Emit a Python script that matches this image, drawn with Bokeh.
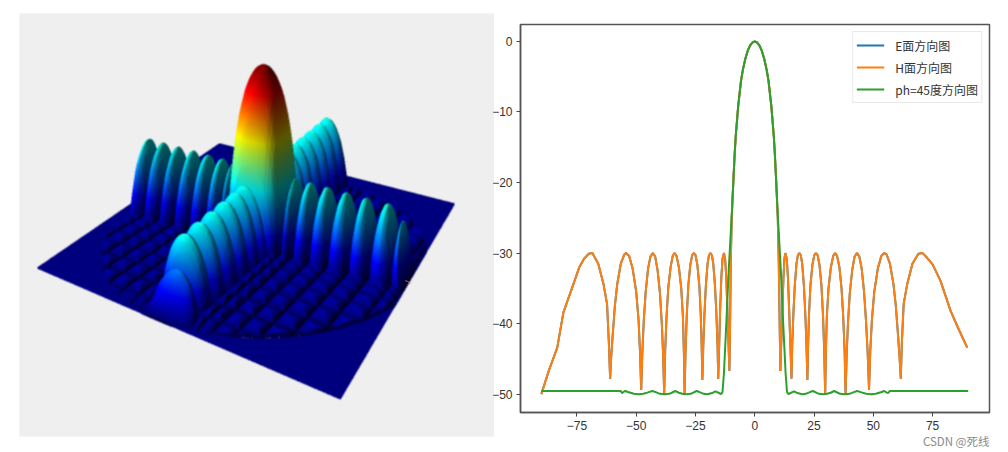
import numpy as np
from bokeh.plotting import figure
from bokeh.layouts import row
from bokeh.models import Range1d, FixedTicker, Legend, LegendItem, Title
from bokeh.embed import file_html
from bokeh.resources import INLINE

# ---------- right chart, values ----------
theta_deg = [-90, -87, -83.3, -80.7, -77, -74, -72, -70, -68.5, -66, -63.8, -62.3, -61.5, -61,
             -60.6, -60, -59, -58, -56.5, -55, -54.3, -53, -51.5, -50, -49, -48.4, -47.9,
             -47.4, -46.8, -46, -45, -44, -43, -42, -41, -40, -39.2, -38.7, -38.2,
             -37.8, -37.2, -36.5, -35.5, -34.6, -33.8, -33, -32, -31, -30.3, -29.9, -29.6,
             -29.2, -28.7, -28, -27.2, -26.4, -25.7, -25, -24.2, -23.4, -22.8, -22.4, -22.1,
             -21.7, -21.2, -20.6, -19.9, -19.3, -18.7, -18.1, -17.5, -16.8, -16.2, -15.7, -15.4,
             -15, -14.6, -14.1, -13.6, -13, -12.5, -12, -11.6, -11.2, -10.7,
             -10.4, -10.1, -9.7, -9, -8.4, -8, -7, -5.8, -5, -4, -3, -2, -1, 0,
             1, 2, 3, 4, 5, 5.8, 7, 8, 8.4, 9, 9.7, 10.1, 10.5, 10.8,
             11.3, 11.7, 12.1, 12.5, 12.9, 13.5, 14, 14.5, 15, 15.5,
             15.8, 16.3, 16.9, 17.6, 18.2, 18.8, 19.4, 20, 20.7, 21.3, 21.8, 22.2,
             22.5, 22.9, 23.5, 24.3, 25.1, 25.8, 26.5, 27.3, 28.1, 28.8, 29.3, 29.7,
             30, 30.4, 31.1, 32.1, 33.1, 33.9, 34.7, 35.7, 36.6, 37.3, 37.9, 38.3,
             38.8, 39.3, 40.1, 41.1, 42.1, 43.1, 44.1, 45.1, 46.1, 46.9, 47.6, 48.2,
             48.7, 49.4, 50.4, 51.9, 53.4, 54.6, 55.6, 57, 58.5, 59.5, 60.5, 61.1, 61.6,
             62, 62.8, 64.3, 66.5, 69, 70.8, 72.5, 75, 78.3, 82.6, 86, 89.6]
h_db = [-50, -46.8, -43.4, -38.4, -34.9, -32, -30.8, -30.1, -30, -31.5, -34.4, -37.2, -43, -47.8,
        -45, -42, -37.5, -34.4, -31.5, -30.2, -30, -30.4, -32.2, -35.5, -39.5, -44, -49.4,
        -44, -39.5, -35.5, -32.2, -30.5, -30, -30.5, -32.4, -35.6, -40, -44, -50,
        -44, -39, -35, -32, -30.4, -30, -30.4, -32, -35, -39, -44, -50,
        -44, -39, -34.5, -31.7, -30.3, -30, -30.3, -31.7, -34.5, -38.5, -43, -48,
        -43, -38.5, -34.5, -31.5, -30.3, -30, -30.3, -31.5, -34.5, -38.5, -43, -47.8,
        -43, -38, -33.5, -30.8, -30, -30.8, -33.5, -37.5, -41.5, -46.7,
        -40, -31, -25, -19.5, -15.5, -13.3, -9.2, -5.6, -4, -2.5, -1.35, -0.6, -0.15, 0,
        -0.15, -0.6, -1.35, -2.5, -4, -5.6, -9.2, -13.3, -15.5, -19.5, -25, -31, -40, -46.7,
        -41.5, -37.5, -33.5, -30.8, -30, -30.8, -33.5, -38, -43, -47.8,
        -43, -38.5, -34.5, -31.5, -30.3, -30, -30.3, -31.5, -34.5, -38.5, -43, -48,
        -43, -38.5, -34.5, -31.7, -30.3, -30, -30.3, -31.7, -34.5, -39, -44, -50,
        -44, -39, -35, -32, -30.4, -30, -30.4, -32, -35, -39, -44, -50,
        -44, -40, -35.6, -32.4, -30.5, -30, -30.5, -32.2, -35.5, -39.5, -44, -49.4,
        -44, -39.5, -35.5, -32.2, -30.4, -30, -30.2, -31.5, -34.4, -37.5, -42, -45, -47.8,
        -43, -37.2, -34.4, -31.5, -30.1, -30, -30.6, -31.6, -33.9, -38.2, -40.8, -43.4]
e_db = list(h_db)

g_theta = [-90, -56.5, -56, -55.2, -54.6, -53.5, -51, -49, -47, -45, -43.2, -41.5, -40, -38,
           -36, -35, -33.5, -32, -30.5, -29, -27, -25.5, -24.4, -23, -21.5, -20, -18, -16.6,
           -15.3, -14.2, -13.6, -13, -12, -11, -9.7, -8.4, -8, -7, -5.8, -5, -4, -3, -2, -1, 0,
           1, 2, 3, 4, 5, 5.8, 7, 8, 8.4, 9.7, 11, 12, 13, 13.6, 14.2, 15.3, 16.6, 18, 20, 21.5,
           23, 24.4, 25.5, 27, 29, 30.5, 32, 33.5, 35, 36, 38, 40, 41.5, 43.2, 45, 47, 49, 51,
           53.5, 54.6, 55.5, 56.2, 57, 90]
g_db = [-49.55, -49.55, -49.85, -49.65, -49.55, -49.7, -49.95, -50, -49.95, -49.75, -49.55, -49.75, -49.95, -50,
        -49.95, -49.8, -49.55, -49.8, -49.95, -50, -49.95, -49.7, -49.55, -49.75, -49.95, -50, -49.85, -49.6,
        -49.8, -50, -49.7, -47, -40, -32.5, -24.5, -15.5, -13.3, -9.2, -5.6, -4, -2.5, -1.35, -0.6, -0.15, 0,
        -0.15, -0.6, -1.35, -2.5, -4, -5.6, -9.2, -13.3, -15.5, -24.5, -32.5, -40, -47, -49.7, -50, -49.8, -49.6, -49.85, -50, -49.95,
        -49.75, -49.55, -49.7, -49.95, -50, -49.95, -49.8, -49.55, -49.8, -49.95, -50, -49.95, -49.75, -49.55, -49.75, -49.95, -50, -49.95,
        -49.7, -49.55, -49.75, -49.85, -49.55, -49.55]

x_ticks = [-75, -50, -25, 0, 25, 50, 75]
y_ticks = [0, -10, -20, -30, -40, -50]
series_names = ["E面方向图", "H面方向图", "ph=45度方向图"]
series_colors = ["#1f77b4", "#ff7f0e", "#2ca02c"]
watermark = "CSDN @死线"

# ---------- left panel: geometry (picture pixels) ----------
panel_box = [19, 13, 475, 423]                # left, top, width, height
plane_corners = [(37, 267), (219, 143), (454, 203), (340, 398)]
axis_ends_uv = [(-0.94, 0), (0.94, 0), (0, -0.94), (0, 0.94)]
axis_ends_px = [(171, 316), (327, 188), (147, 209), (408, 280)]
peak_height_px = 176
red_mark_x = [405, 407, 410]
red_mark_y = [-280, -281, -283]


def homography(src, dst):
    A, b = [], []
    for (u, v), (x, y) in zip(src, dst):
        A.append([u, v, 1, 0, 0, 0, -u * x, -v * x]); b.append(x)
        A.append([0, 0, 0, u, v, 1, -u * y, -v * y]); b.append(y)
    return np.append(np.linalg.solve(np.array(A, float), np.array(b, float)), 1).reshape(3, 3)


def render_surface():
    pw, ph = panel_box[2], panel_box[3]
    ss = 2
    T = homography(axis_ends_uv, axis_ends_px)
    Ti = np.linalg.inv(T)
    cc = np.array([[x, y, 1.0] for x, y in plane_corners]) @ Ti.T
    cu, cv = cc[:, 0] / cc[:, 2], cc[:, 1] / cc[:, 2]
    n = 1900
    us = np.linspace(cu.min(), cu.max(), n)
    vs = np.linspace(cv.min(), cv.max(), n)
    th = np.sin(np.radians(theta_deg))
    du_ = np.interp(us, th, h_db)
    dv_ = np.interp(vs, th, h_db)
    U, V = np.meshgrid(us, vs, indexing="ij")
    DU, DV = np.meshgrid(du_, dv_, indexing="ij")
    inside = U**2 + V**2 <= 1.0
    W = T[2, 0] * U + T[2, 1] * V + T[2, 2]
    X = (T[0, 0] * U + T[0, 1] * V + T[0, 2]) / W
    Y = (T[1, 0] * U + T[1, 1] * V + T[1, 2]) / W
    c = np.array(plane_corners, float)
    mask = np.ones_like(U, bool)
    dist = []
    for i in range(4):
        a, b = c[i], c[(i + 1) % 4]
        d = ((b[0] - a[0]) * (Y - a[1]) - (b[1] - a[1]) * (X - a[0])) / np.hypot(*(b - a))
        dist.append(d)
        mask &= d >= 0
    real = np.clip((DU + DV + 50) / 50, 0, 1)
    fu = np.clip((DU + 50) / 20, 0, 1)
    fv = np.clip((DV + 50) / 20, 0, 1)
    pyramid = np.minimum(fu, fv)
    z = np.maximum(real, 0.032 * pyramid)
    z[~inside] = 0
    # ridges settle down to the front edges of the plane instead of hanging over them
    taper_front = np.clip(dist[3] / 20, 0, 1)
    taper_right = np.clip(dist[2] / 7, 0, 1)
    z = z * taper_front * (3 - 2 * taper_front) * taper_front * taper_right * (3 - 2 * taper_right) * taper_right
    hpx = peak_height_px * z
    step_u = us[1] - us[0]
    step_v = vs[1] - vs[0]
    Zu, Zv = np.gradient(peak_height_px * z, step_u, step_v)
    J = np.array([[(axis_ends_px[1][0] - axis_ends_px[0][0]) / 1.88, (axis_ends_px[3][0] - axis_ends_px[2][0]) / 1.88],
                  [(axis_ends_px[1][1] - axis_ends_px[0][1]) / 1.88, (axis_ends_px[3][1] - axis_ends_px[2][1]) / 1.88]])
    Ji = np.linalg.inv(J)
    ZX = Zu * Ji[0, 0] + Zv * Ji[1, 0]
    ZY = Zu * Ji[0, 1] + Zv * Ji[1, 1]
    norm = np.sqrt(ZX**2 + ZY**2 + 1)
    L = np.array([-0.78, 0.22, 0.58]); L = L / np.linalg.norm(L)
    ndl = (-ZX * L[0] - ZY * L[1] + L[2]) / norm
    shade = np.minimum(0.35 + 1.12 * np.clip(ndl, 0, 1), 1.0)
    low = np.clip(z / 0.06, 0, 1)
    valley = 0.4 + 0.6 * np.sqrt(pyramid)
    shade = shade * (low + (1 - low) * valley)
    shade = np.where(inside, shade, 1.0)
    rr = np.clip(1.5 - np.abs(4 * z - 3), 0, 1)
    gg = np.clip(1.5 - np.abs(4 * z - 2), 0, 1)
    bb = np.clip(1.5 - np.abs(4 * z - 1), 0, 1)
    col = np.clip(np.stack([rr * shade, gg * shade, bb * shade], -1), 0, 1)
    fill = np.minimum(np.ceil((np.abs(Zu) * step_u + np.abs(Zv) * step_v) * ss).astype(int) + 3, 60)
    Xm, Ym, hm, cm, fm = X[mask], Y[mask], hpx[mask], col[mask], fill[mask]
    order = np.argsort(Ym, kind="stable")
    Xm, Ym, hm, cm, fm = Xm[order], Ym[order], hm[order], cm[order], fm[order]
    px = ((Xm - panel_box[0]) * ss).astype(int)
    py = ((Ym - hm - panel_box[1]) * ss).astype(int)
    cu8 = (cm * 255).astype(np.uint8)
    rep = np.repeat(np.arange(len(px)), fm)
    off = np.arange(len(rep)) - np.repeat(np.cumsum(fm) - fm, fm)
    pxr, pyr = px[rep], py[rep] + off
    ok = (pxr >= 0) & (pxr < pw * ss) & (pyr >= 0) & (pyr < ph * ss)
    buf = np.full((ph * ss, pw * ss, 3), 239, np.uint8)
    buf[pyr[ok], pxr[ok]] = cu8[rep[ok]]
    f = buf.astype(np.float32)
    small = f.reshape(ph, ss, pw, ss, 3).mean(axis=(1, 3))
    blur = small.copy()
    blur[1:-1, 1:-1] = (small[1:-1, 1:-1] * 4 + small[:-2, 1:-1] + small[2:, 1:-1] + small[1:-1, :-2] + small[1:-1, 2:]) / 8
    out = np.zeros((ph, pw), np.uint32)
    v8 = out.view(np.uint8).reshape(ph, pw, 4)
    v8[..., :3] = blur.astype(np.uint8)
    v8[..., 3] = 255
    return np.flipud(out)


surface = render_surface()
bx, by, bw, bh = panel_box

p1 = figure(width=494, height=450, x_range=Range1d(bx, bx + bw), y_range=Range1d(-(by + bh), -by),
            toolbar_location=None, output_backend="svg", frame_align=False,
            min_border_left=19, min_border_right=0, min_border_top=13, min_border_bottom=14)
p1.axis.visible = False
p1.grid.visible = False
p1.outline_line_color = None
p1.background_fill_color = "#efefef"
p1.image_rgba(image=[surface], x=bx, y=-(by + bh), dw=bw, dh=bh)
p1.line(red_mark_x, red_mark_y, line_color="#f06a6a", line_width=1)

p2 = figure(width=512, height=450, x_range=Range1d(-98.8, 99), y_range=Range1d(-52.6, 2.4),
            toolbar_location=None, output_backend="svg", frame_align=False,
            min_border_left=32, min_border_right=11, min_border_top=24, min_border_bottom=38)
p2.margin = (0, 0, 0, -6)
p2.border_fill_color = None
p2.grid.visible = False
p2.outline_line_color = "#555555"
p2.outline_line_width = 1.5
for ax, ticks in ((p2.xaxis[0], x_ticks), (p2.yaxis[0], y_ticks)):
    ax.ticker = FixedTicker(ticks=ticks)
    ax.major_tick_in = 0
    ax.major_tick_out = 4
    ax.minor_tick_line_color = None
    ax.axis_line_color = "#555555"
    ax.axis_line_width = 1.5
    ax.major_tick_line_color = "#444444"
    ax.major_label_text_font = "Liberation Sans"
    ax.major_label_text_font_size = "12px"
    ax.major_label_text_color = "#333333"
    ax.major_label_standoff = 4

r_e = p2.line(theta_deg, e_db, line_color=series_colors[0], line_width=2)
r_h = p2.line(theta_deg, h_db, line_color=series_colors[1], line_width=2)
r_g = p2.line(g_theta, g_db, line_color=series_colors[2], line_width=2)

legend = Legend(items=[LegendItem(label=series_names[0], renderers=[r_e]),
                       LegendItem(label=series_names[1], renderers=[r_h]),
                       LegendItem(label=series_names[2], renderers=[r_g])],
                location="top_right", margin=7, padding=3, spacing=2,
                glyph_width=28, glyph_height=20, label_height=20, label_standoff=11,
                label_text_font="Noto Sans CJK SC", label_text_font_size="12px",
                label_text_color="#333333",
                border_line_color="#d5d5d5", border_line_width=1,
                background_fill_color="white", background_fill_alpha=0.8)
p2.add_layout(legend)

p2.add_layout(Title(text=watermark, align="right", standoff=0, offset=0, vertical_align="top",
                    text_font="Noto Sans CJK SC", text_font_size="11.5px",
                    text_font_style="normal", text_color="#8a8a8a"), "below")

layout = row(p1, p2, spacing=0)
open("out.html", "w").write(file_html(layout, INLINE))
